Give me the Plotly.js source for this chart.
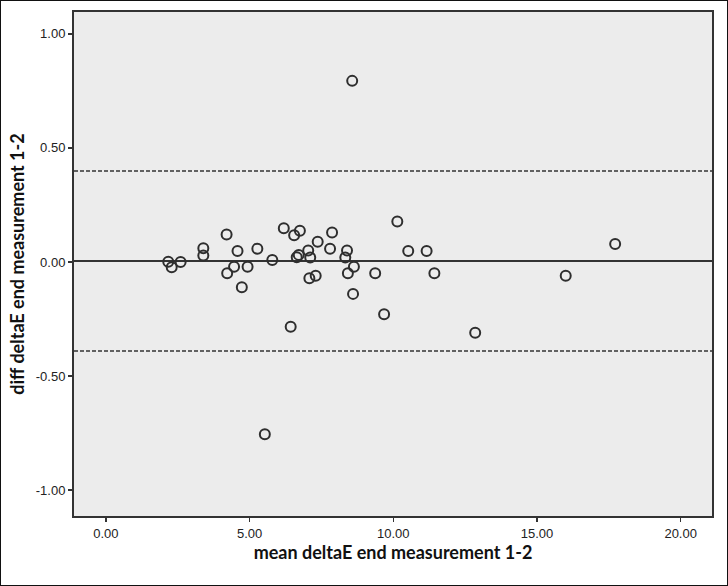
<!DOCTYPE html>
<html>
<head>
<meta charset="utf-8">
<script src="https://cdn.plot.ly/plotly-3.0.1.min.js"></script>
<style>
  body { margin: 0; background: #fff; }
  #frame { width: 728px; height: 586px; box-sizing: border-box; border: 1px solid #111; }
  #chart { width: 726px; height: 584px; }
</style>
</head>
<body>
<div id="frame"><div id="chart"></div></div>
<script>
// mean of the two measurements
const meanDeltaE = [
  2.17, 2.29, 2.60, 3.39, 3.39, 4.20, 4.58, 4.46, 4.22, 4.93,
  4.73, 5.27, 5.79, 6.19, 6.55, 6.75, 6.64, 6.71, 7.04, 7.11,
  7.08, 7.30, 7.37, 7.80, 7.87, 8.39, 8.33, 8.63, 8.42, 8.60,
  9.37, 10.14, 10.52, 11.16, 11.43, 9.68, 6.43, 17.72, 16.00, 12.85,
  8.57, 5.53
]

// difference between the two measurements
const diffDeltaE = [
  0.001, -0.023, 0.000, 0.060, 0.028, 0.120, 0.048, -0.021, -0.050, -0.021,
  -0.111, 0.058, 0.009, 0.148, 0.117, 0.137, 0.021, 0.031, 0.050, 0.019,
  -0.071, -0.061, 0.089, 0.058, 0.129, 0.050, 0.019, -0.021, -0.050, -0.140,
  -0.050, 0.177, 0.048, 0.048, -0.050, -0.229, -0.284, 0.079, -0.061, -0.310,
  0.794, -0.756
]

// bias and limits of agreement
const meanDiff = 0.004
const upperLimit = 0.399
const lowerLimit = -0.391

const xTicks = [0, 5, 10, 15, 20]
const xTickLabels = ["0.00", "5.00", "10.00", "15.00", "20.00"]
const yTicks = [-1, -0.5, 0, 0.5, 1]
const yTickLabels = ["-1.00", "-0.50", "0.00", "0.50", "1.00"]

function hline(y, dash, width) {
  return {
    type: "line", xref: "paper", yref: "y",
    x0: 0, x1: 1, y0: y, y1: y,
    line: { color: "#333", width: width, dash: dash },
    layer: "below"
  }
}

const points = {
  x: meanDeltaE,
  y: diffDeltaE,
  mode: "markers",
  type: "scatter",
  marker: {
    symbol: "circle-open",
    size: 10,
    color: "#2e2e2e",
    line: { width: 2, color: "#2e2e2e" }
  },
  hoverinfo: "x+y"
}

const tickFont = { family: "Liberation Sans, Arial, sans-serif", size: 13, color: "#222" }
const titleFont = { family: "Lato, Open Sans, sans-serif", size: 18, color: "#111", weight: "bold" }

const layout = {
  width: 726,
  height: 584,
  margin: { l: 73, r: 15, t: 11, b: 69 },
  paper_bgcolor: "#ffffff",
  plot_bgcolor: "#ececec",
  showlegend: false,
  xaxis: {
    range: [-1.11, 21.09],
    tickvals: xTicks,
    ticktext: xTickLabels,
    ticks: "outside",
    ticklen: 4,
    tickcolor: "#333",
    tickwidth: 1.5,
    tickfont: tickFont,
    showgrid: false,
    zeroline: false,
    showline: true,
    mirror: true,
    linecolor: "#333",
    linewidth: 2,
    title: { text: "mean deltaE end measurement 1-2", font: titleFont, standoff: 0 }
  },
  yaxis: {
    range: [-1.114, 1.096],
    tickvals: yTicks,
    ticktext: yTickLabels,
    ticks: "outside",
    ticklen: 4,
    tickcolor: "#333",
    tickwidth: 1.5,
    tickfont: tickFont,
    showgrid: false,
    zeroline: false,
    showline: true,
    mirror: true,
    linecolor: "#333",
    linewidth: 2,
    title: { text: "diff deltaE end measurement 1-2", font: titleFont, standoff: 6 }
  },
  shapes: [
    hline(meanDiff, "solid", 2),
    hline(upperLimit, "4px,2px", 1.5),
    hline(lowerLimit, "4px,2px", 1.5)
  ]
}

Plotly.newPlot("chart", [points], layout, { displayModeBar: false, staticPlot: true })
</script>
</body>
</html>
